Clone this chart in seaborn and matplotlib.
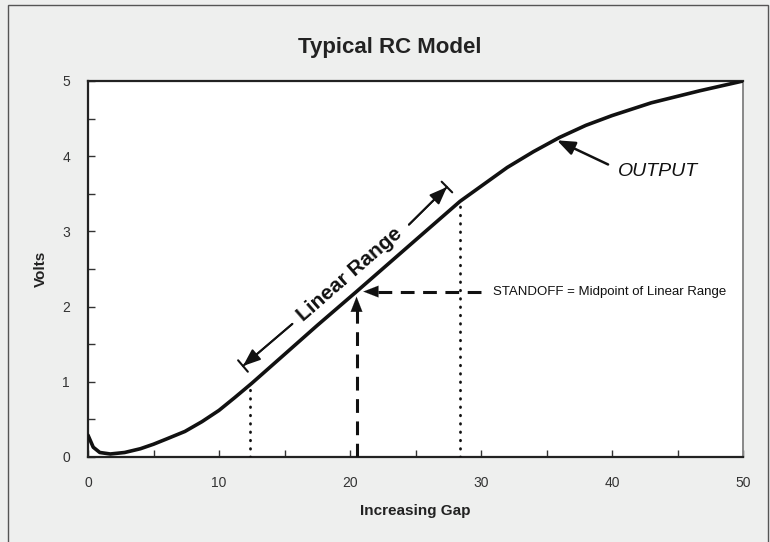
import numpy as np
import pandas as pd
import matplotlib
matplotlib.use("Agg")
import matplotlib.pyplot as plt
import seaborn as sns
from matplotlib.patches import Rectangle

# ---- data ----
gap = [0, 0.4, 0.9, 1.7, 2.8, 4, 5, 6, 7.4, 8.7, 10, 11.2, 12.5, 13.8, 15.1,
       17.5, 20.5, 23, 25.5, 28.4, 30, 32, 34, 36, 38, 40, 43, 46.7, 50]
volts = [0.29, 0.13, 0.06, 0.04, 0.06, 0.11, 0.17, 0.24, 0.34, 0.47, 0.62,
         0.79, 0.98, 1.18, 1.38, 1.75, 2.2, 2.58, 2.96, 3.4, 3.6, 3.85, 4.06,
         4.25, 4.41, 4.54, 4.71, 4.87, 5.0]

lin_lo = 12.4      # start of linear range
lin_hi = 28.4      # end of linear range
standoff = 20.5    # midpoint
output_pt = 35.8   # where OUTPUT arrow points

x_ticks = [0, 10, 20, 30, 40, 50]
y_ticks = [0, 1, 2, 3, 4, 5]

df = pd.DataFrame({"gap": gap, "volts": volts})

def v_at(x):
    return float(np.interp(x, gap, volts))

sns.set_theme(style="ticks")
plt.rcParams["font.family"] = ["Liberation Sans", "DejaVu Sans"]

BG = "#eeefee"
INK = "#111111"
fig = plt.figure(figsize=(7.7, 5.42), dpi=100, facecolor=BG)
ax = fig.add_axes([88 / 770, 1 - 457 / 542, (743 - 88) / 770, (457 - 81) / 542])
ax.set_facecolor("white")

# outer frame
fig.patches.append(Rectangle((8 / 770, -0.01), (768 - 8) / 770, 1 - 5 / 542 + 0.01,
                             transform=fig.transFigure, fill=False,
                             edgecolor="#555555", lw=1.0))

sns.lineplot(data=df, x="gap", y="volts", ax=ax, color=INK, lw=2.6,
             solid_capstyle="round", solid_joinstyle="round", zorder=5)

# dotted verticals at the ends of the linear range
for xv in (lin_lo, lin_hi):
    ax.plot([xv, xv], [0, v_at(xv) - 0.04], color=INK, lw=2.0,
            linestyle=(0, (0.2, 2.8)), dash_capstyle="round", zorder=3)

head = "-|>,head_length=0.9,head_width=0.35"

# standoff dashed arrows
sv = v_at(standoff)
ax.plot([standoff, standoff], [0, sv - 0.2], color=INK, lw=2.2,
        linestyle=(0, (4.5, 2.8)), zorder=3)
ax.annotate("", xy=(standoff, sv - 0.03), xytext=(standoff, sv - 0.28),
            arrowprops=dict(arrowstyle=head, color=INK, lw=0.1), zorder=4)
ax.plot([standoff + 1.6, 30.4], [sv, sv], color=INK, lw=2.2,
        linestyle=(0, (4.5, 2.8)), zorder=3)
ax.annotate("", xy=(standoff + 0.3, sv), xytext=(standoff + 2.0, sv),
            arrowprops=dict(arrowstyle=head, color=INK, lw=0.1), zorder=4)
ax.text(30.95, sv, "STANDOFF = Midpoint of Linear Range", fontsize=9.5,
        va="center", ha="left", color=INK)

# linear range double arrow, drawn just above the curve
bar_lo, bar_hi = (11.83, 1.21), (27.4, 3.59)
tail_lo, tail_hi = (15.6, 1.77), (24.5, 3.09)
for tip, tail in ((bar_lo, tail_lo), (bar_hi, tail_hi)):
    ax.annotate("", xy=tip, xytext=tail,
                arrowprops=dict(arrowstyle=head, color=INK, lw=1.3,
                                shrinkA=0, shrinkB=0))
    ax.annotate("", xy=tip, xytext=tail,
                arrowprops=dict(arrowstyle="|-|,widthA=0.0,widthB=0.45",
                                color=INK, lw=1.5, shrinkA=0, shrinkB=0))
ax.text(19.95, 2.43, "Linear Range", fontsize=15, fontweight="bold",
        rotation=41, rotation_mode="anchor", ha="center", va="center",
        color=INK)

# OUTPUT label
ov = v_at(output_pt)
ax.annotate("", xy=(output_pt, ov - 0.02), xytext=(39.7, 3.89),
            arrowprops=dict(arrowstyle=head, color=INK, lw=1.8,
                            shrinkA=0, shrinkB=0))
ax.text(40.46, 3.8, "OUTPUT", fontsize=14, style="italic", va="center",
        ha="left", color=INK)

ax.set_xlim(0, 50)
ax.set_ylim(0, 5)
ax.set_xticks(x_ticks)
ax.set_yticks(y_ticks)
ax.set_xticks(np.arange(0, 51, 5), minor=True)
ax.set_yticks(np.arange(0, 5.01, 0.5), minor=True)
ax.tick_params(axis="both", which="both", direction="in", length=5, width=1,
               color="#333333")
ax.tick_params(axis="both", which="major", labelsize=10, labelcolor="#333333")
ax.tick_params(axis="x", which="major", pad=14)
ax.tick_params(axis="y", which="major", pad=13)
for s in ("left", "bottom", "top"):
    ax.spines[s].set_color("#222222")
    ax.spines[s].set_linewidth(1.6)
ax.spines["right"].set_color("#888888")
ax.spines["right"].set_linewidth(1.4)
ax.grid(False)

ax.set_xlabel("Increasing Gap", fontsize=11, fontweight="bold", color="#222222",
              labelpad=10)
ax.set_ylabel("Volts", fontsize=11, fontweight="bold", color="#222222",
              labelpad=10)
fig.text(390 / 770, 1 - 47 / 542, "Typical RC Model", fontsize=16,
         fontweight="bold", ha="center", va="center", color="#222222")

fig.savefig("out.png", dpi=100, facecolor=BG)
